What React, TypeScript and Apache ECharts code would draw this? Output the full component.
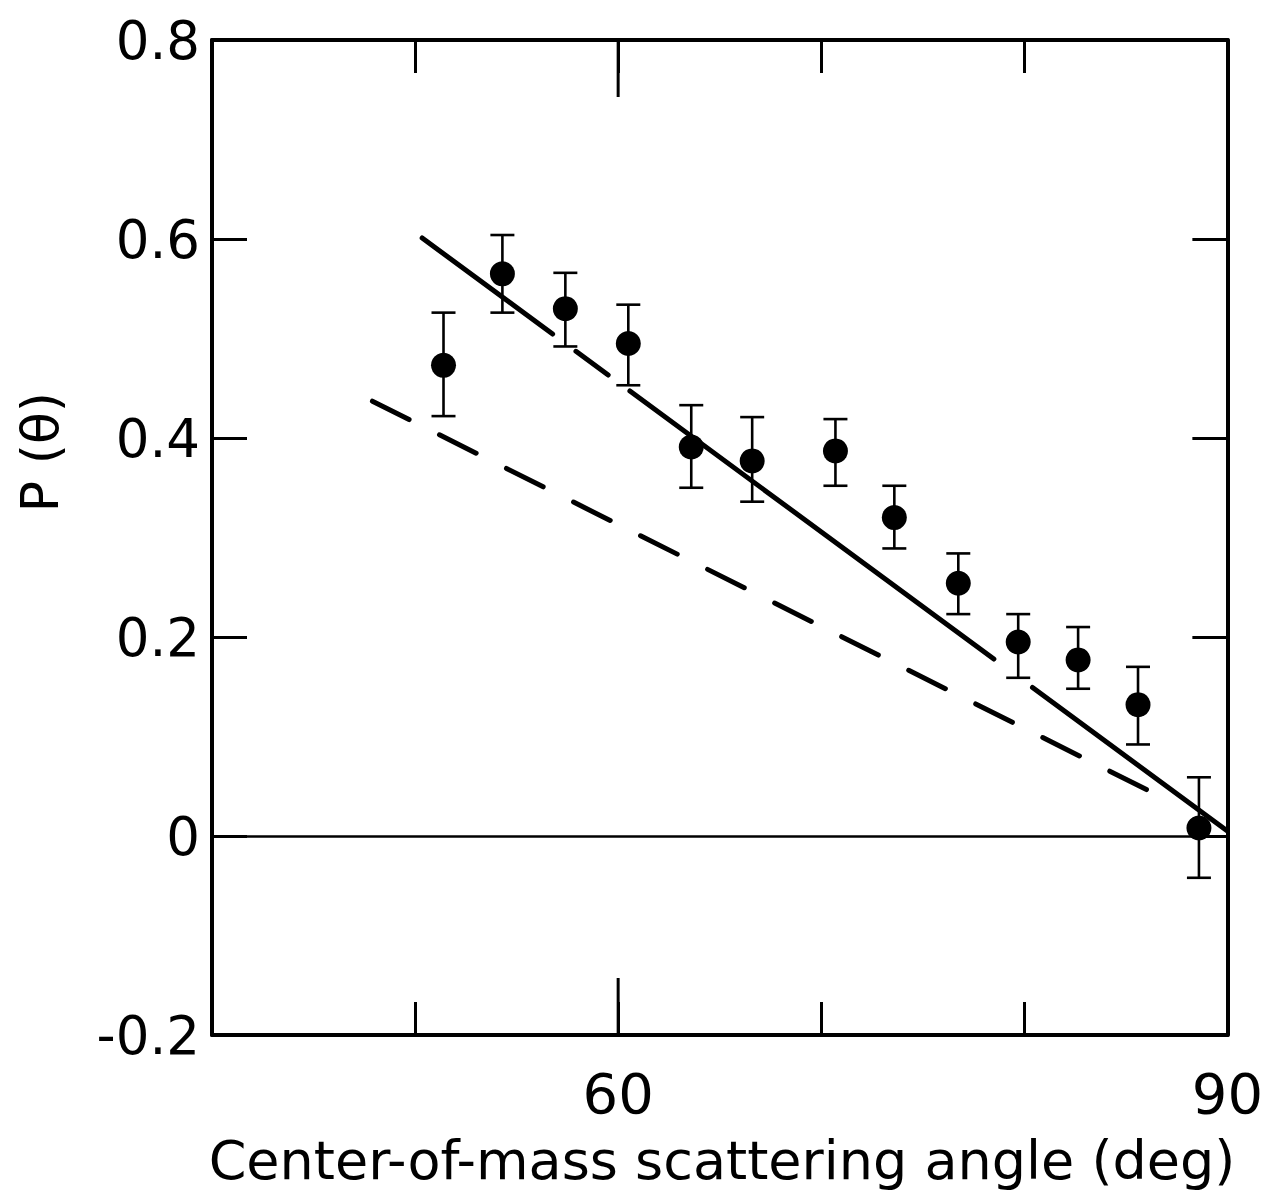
import React, { useEffect, useRef } from "react";
import * as echarts from "echarts";

// Measured data (center-of-mass angle in deg, polarization P(θ))
const angles = [51.4, 54.3, 57.4, 60.5, 63.6, 66.6, 70.7, 73.6, 76.75, 79.7, 82.65, 85.6, 88.6];
const pValues = [0.473, 0.565, 0.53, 0.495, 0.391, 0.377, 0.387, 0.32, 0.254, 0.195, 0.177, 0.132, 0.008];
const errLow = [0.422, 0.526, 0.492, 0.453, 0.35, 0.336, 0.352, 0.289, 0.223, 0.159, 0.148, 0.092, -0.042];
const errHigh = [0.526, 0.604, 0.566, 0.534, 0.433, 0.421, 0.419, 0.352, 0.284, 0.223, 0.21, 0.17, 0.059];

// Theory curves
const solidX = [50.35, 90];
const solidY = [0.601, 0.005];
const dashedX = [47.9, 86.37];
const dashedY = [0.437, 0.043];

// Axis ticks / labels
const xLabeled = [60, 90];
const xMajorTicks = [60];

const FONT = "DejaVu Sans";

export default function App() {
  const ref = useRef<HTMLDivElement>(null);

  useEffect(() => {
    if (!ref.current) return;
    const chart = echarts.init(ref.current, null, { renderer: "svg" });

    const errData = angles.map((x, i) => [x, pValues[i], errLow[i], errHigh[i]]);
    const pts = angles.map((x, i) => [x, pValues[i]]);
    const solid = solidX.map((x, i) => [x, solidY[i]]);
    const dashed = dashedX.map((x, i) => [x, dashedY[i]]);

    const axisLine = { show: true, onZero: false, lineStyle: { color: "#000", width: 4 } };
    const tickStyle = { color: "#000", width: 3 };

    const option: any = {
      animation: false,
      backgroundColor: "#fff",
      grid: { left: 212, top: 40, width: 1019, height: 995, containLabel: false },
      xAxis: [
        {
          type: "value",
          position: "bottom",
          min: 40,
          max: 90,
          interval: 10,
          axisLine,
          axisTick: { show: true, inside: true, length: 33, lineStyle: tickStyle },
          splitLine: { show: false },
          axisLabel: {
            show: true,
            margin: 30,
            showMinLabel: true,
            showMaxLabel: true,
            color: "#000",
            fontFamily: FONT,
            fontSize: 56,
            formatter: (v: number) => (xLabeled.includes(v) ? String(v) : ""),
          },
        },
        {
          type: "value",
          position: "top",
          min: 40,
          max: 90,
          interval: 10,
          axisLine,
          axisTick: { show: true, inside: true, length: 33, lineStyle: tickStyle },
          splitLine: { show: false },
          axisLabel: { show: false },
        },
      ],
      yAxis: [
        {
          type: "value",
          position: "left",
          min: -0.2,
          max: 0.8,
          interval: 0.2,
          axisLine,
          axisTick: { show: true, inside: true, length: 35, lineStyle: tickStyle },
          splitLine: { show: false },
          axisLabel: {
            show: true,
            margin: 12,
            color: "#000",
            fontFamily: FONT,
            fontSize: 53,
            formatter: (v: number) => (Math.abs(v) < 1e-9 ? "0" : v.toFixed(1)),
          },
        },
        {
          type: "value",
          position: "right",
          min: -0.2,
          max: 0.8,
          interval: 0.2,
          axisLine,
          axisTick: { show: true, inside: true, length: 35, lineStyle: tickStyle },
          splitLine: { show: false },
          axisLabel: { show: false },
        },
      ],
      graphic: [
        {
          type: "text",
          x: 40,
          y: 452,
          rotation: Math.PI / 2,
          style: {
            text: "P (θ)",
            fontFamily: FONT,
            fontSize: 52,
            fill: "#000",
            align: "center",
            verticalAlign: "middle",
          },
        },
        {
          type: "text",
          x: 722,
          y: 1160,
          style: {
            text: "Center-of-mass scattering angle (deg)",
            fontFamily: FONT,
            fontSize: 54,
            fill: "#000",
            align: "center",
            verticalAlign: "middle",
          },
        },
      ],
      series: [
        {
          type: "line",
          data: [],
          silent: true,
          markLine: {
            silent: true,
            symbol: "none",
            label: { show: false },
            lineStyle: { color: "#000", width: 2.5, type: "solid", opacity: 1 },
            data: [{ yAxis: 0 }],
          },
        },
        {
          type: "custom",
          silent: true,
          data: xMajorTicks.map((v) => [v, -0.2]),
          encode: { x: 0, y: 1 },
          renderItem: (params: any, api: any) => {
            const x = api.value(0);
            const b = api.coord([x, -0.2]);
            const t = api.coord([x, 0.8]);
            return {
              type: "group",
              children: [
                { type: "line", shape: { x1: b[0], y1: b[1], x2: b[0], y2: b[1] - 57 }, style: { stroke: "#000", lineWidth: 3 } },
                { type: "line", shape: { x1: t[0], y1: t[1], x2: t[0], y2: t[1] + 57 }, style: { stroke: "#000", lineWidth: 3 } },
              ],
            };
          },
        },
        {
          type: "line",
          data: dashed,
          showSymbol: false,
          symbol: "none",
          silent: true,
          lineStyle: { color: "#000", width: 5, type: [41, 34], cap: "round", opacity: 1 },
        },
        {
          type: "line",
          data: solid,
          showSymbol: false,
          symbol: "none",
          silent: true,
          lineStyle: { color: "#000", width: 5, type: [162, 29, 40, 27, 452, 48, 400], cap: "round", opacity: 1 },
        },
        {
          type: "custom",
          silent: true,
          data: errData,
          encode: { x: 0, y: [1, 2, 3] },
          renderItem: (params: any, api: any) => {
            const x = api.value(0);
            const lo = api.coord([x, api.value(2)]);
            const hi = api.coord([x, api.value(3)]);
            const hw = 12;
            const st = { stroke: "#000", lineWidth: 2.6 };
            return {
              type: "group",
              children: [
                { type: "line", shape: { x1: lo[0], y1: lo[1], x2: hi[0], y2: hi[1] }, style: st },
                { type: "line", shape: { x1: lo[0] - hw, y1: lo[1], x2: lo[0] + hw, y2: lo[1] }, style: st },
                { type: "line", shape: { x1: hi[0] - hw, y1: hi[1], x2: hi[0] + hw, y2: hi[1] }, style: st },
              ],
            };
          },
        },
        {
          type: "scatter",
          data: pts,
          symbol: "circle",
          symbolSize: 25,
          silent: true,
          itemStyle: { color: "#000", opacity: 1 },
        },
      ],
    };

    chart.setOption(option);
    return () => chart.dispose();
  }, []);

  return (
    <div
      ref={ref}
      style={{ position: "absolute", left: 0, top: 0, width: 1266, height: 1193, background: "#fff" }}
    />
  );
}
